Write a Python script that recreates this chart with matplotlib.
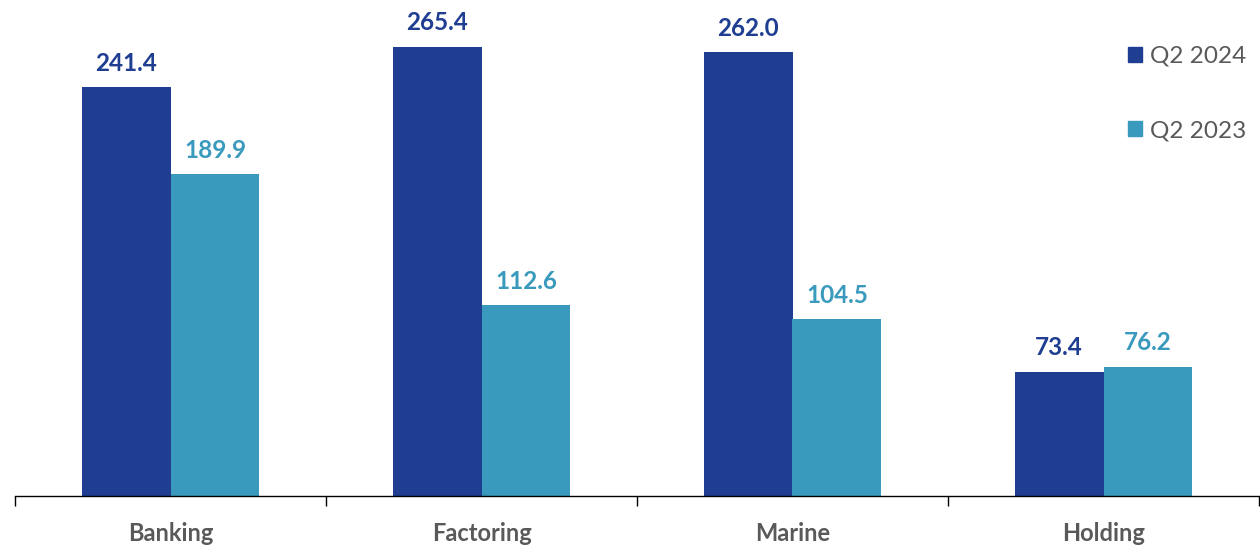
import matplotlib.pyplot as plt
import numpy as np
from matplotlib.patches import Patch

# segments and values
segments = ["Banking", "Factoring", "Marine", "Holding"]
q2_2024 = [241.4, 265.4, 262.0, 73.4]
q2_2023 = [189.9, 112.6, 104.5, 76.2]
series_names = ["Q2 2024", "Q2 2023"]

dark = "#1F3E92"
light = "#3A9ABD"
grey = "#595959"

plt.rcParams['font.family'] = ['Lato', 'DejaVu Sans']

fig = plt.figure(figsize=(12.6, 5.47), dpi=100)
ax = fig.add_axes([15/1260, 51/547, 1244/1260, 491/547])

x = np.arange(len(segments))
w = 0.286

b1 = ax.bar(x - w/2, q2_2024, w, color=dark, label=series_names[0])
b2 = ax.bar(x + w/2, q2_2023, w, color=light, label=series_names[1])

for bars, col in [(b1, dark), (b2, light)]:
    for r in bars:
        ax.annotate(f"{r.get_height():.1f}", (r.get_x() + r.get_width()/2, r.get_height()),
                    xytext=(0, 9), textcoords="offset points", ha="center", va="bottom",
                    fontsize=17.5, fontweight="bold", color=col)

ax.set_xlim(-0.5, len(segments) - 0.5)
ax.set_ylim(0, 290)

# axis: only bottom spine with boundary ticks
for s in ["top", "right", "left"]:
    ax.spines[s].set_visible(False)
ax.spines["bottom"].set_color("black")
ax.spines["bottom"].set_linewidth(1.0)
ax.set_yticks([])
ax.set_xticks(np.arange(len(segments) + 1) - 0.5)
ax.set_xticklabels([])
ax.tick_params(axis="x", length=7, width=1, color="black")
ax.set_xticks(x, minor=True)
ax.set_xticklabels(segments, minor=True, fontsize=17, fontweight="bold", color=grey)
ax.tick_params(axis="x", which="minor", length=0, pad=19)

handles = [Patch(color=dark), Patch(color=light)]
leg = fig.legend(handles, series_names, loc="upper left", bbox_to_anchor=(1106/1260, 1 - 24/547),
                 frameon=False, fontsize=17.5, handlelength=0.6, handleheight=0.6,
                 handletextpad=0.3, labelspacing=2.2)
for t in leg.get_texts():
    t.set_color(grey)

fig.savefig("out.png", dpi=100)
